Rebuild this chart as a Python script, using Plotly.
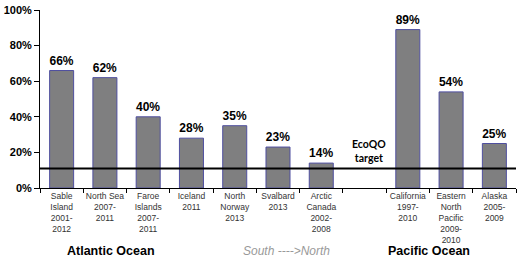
import plotly.graph_objects as go

categories = ["Sable<br>Island<br>2001-<br>2012", "North Sea<br>2007-<br>2011",
              "Faroe<br>Islands<br>2007-<br>2011", "Iceland<br>2011", "North<br>Norway<br>2013",
              "Svalbard<br>2013", "Arctic<br>Canada<br>2002-<br>2008", " ",
              "California<br>1997-<br>2010", "Eastern<br>North<br>Pacific<br>2009-<br>2010",
              "Alaska<br>2005-<br>2009"]
values = [66, 62, 40, 28, 35, 23, 14, None, 89, 54, 25]
labels = ["66%", "62%", "40%", "28%", "35%", "23%", "14%", "", "89%", "54%", "25%"]
target = 11
y_ticks = [0, 20, 40, 60, 80, 100]

fig = go.Figure()
fig.add_trace(go.Bar(
    x=categories, y=values, text=labels, textposition="outside",
    constraintext="none", cliponaxis=False,
    textfont=dict(family="Arial, Liberation Sans", size=12, color="black", weight="bold"),
    marker=dict(color="#7f7f80", line=dict(color="#4f4f9f", width=1)),
))

fig.add_shape(type="line", xref="paper", x0=0, x1=1, yref="y", y0=target, y1=target,
              line=dict(color="black", width=2))

fig.add_annotation(x=7.1, y=21, xref="x", yref="y", text="<b>EcoQO<br>target</b>",
                   showarrow=False, font=dict(family="Lato", size=10.5, color="black"))
for txt, xpos, col, style in [("<b>Atlantic Ocean</b>", 1.15, "black", 12.5),
                              ("<b>Pacific Ocean</b>", 8.5, "black", 12.5),
                              ("<i>South ---->North</i>", 5.2, "#999999", 12)]:
    fig.add_annotation(x=xpos, y=-0.355, xref="x", yref="paper", text=txt,
                       yanchor="middle", xanchor="center", showarrow=False,
                       font=dict(family="Arial, Liberation Sans", size=style, color=col))

fig.update_layout(
    width=520, height=260, margin=dict(l=40, r=4, t=7, b=72),
    paper_bgcolor="white", plot_bgcolor="white", showlegend=False, bargap=0.445,
    font=dict(family="Arial, Liberation Sans"),
    xaxis=dict(type="category", tickson="boundaries", ticks="outside", ticklen=4,
               tickcolor="black", showline=True, linecolor="black", linewidth=1,
               showgrid=False, tickangle=0,
               tickfont=dict(family="Arial, Liberation Sans", size=8.5, color="#333333")),
    yaxis=dict(range=[0, 100], tickvals=y_ticks, ticktext=[f"{v}%" for v in y_ticks],
               ticks="outside", ticklen=5, tickcolor="black", showline=True,
               linecolor="black", linewidth=1, showgrid=False, zeroline=False,
               tickfont=dict(family="Arial, Liberation Sans", size=11, color="black", weight="bold")),
)

fig.write_html("out.html", config={"displayModeBar": False},
               post_script="document.body.style.margin='0';")
